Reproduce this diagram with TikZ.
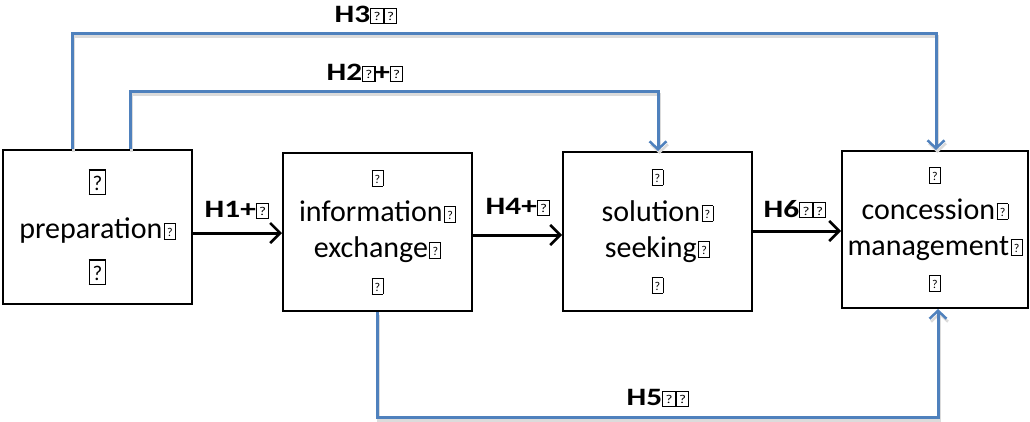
\documentclass[tikz,border=0pt]{standalone}
\usepackage{fontspec}
\setmainfont{Carlito}
\usetikzlibrary{arrows.meta}
% missing-glyph box: width, height, rule, font size, raise
\newcommand\mgx[5]{{\fboxsep=0pt\fboxrule=#3pt\fbox{\makebox[#1pt]{\rule{0pt}{#2pt}\raisebox{#5pt}{\fontsize{#4}{#4}\selectfont\mdseries ?}}}}}
\newcommand\mgs{\mgx{10}{15}{0.9}{12}{2.5}}
\newcommand\mgl{\mgx{9}{14}{0.9}{12}{2}}
\newcommand\mgb{\mgx{15}{23}{1.3}{21}{3}}
\newcommand\wmg[1]{#1\kern1.5pt\mgs}
\newcommand\lab[1]{\scalebox{1.25}[1]{\fontsize{25}{25}\selectfont\bfseries #1}}
\definecolor{obl}{RGB}{79,129,189}
\tikzset{
  box/.style={draw=black, line width=2pt, inner sep=0pt, align=center,
    font=\fontsize{30}{36}\selectfont},
  blk/.style={draw=black, line width=3pt, -{Straight Barb[length=10pt,width=20pt,line width=2.6pt]}},
  blu/.style={draw=obl, line width=3pt,
    preaction={draw=black!14, line width=3pt, transform canvas={shift={(1.5pt,-3pt)}}}},
  bluarr/.style={blu, -{Straight Barb[length=8pt,width=17pt,line width=2.5pt]}},
  lbl/.style={inner sep=0pt}
}
\begin{document}
\begin{tikzpicture}[x=1pt,y=-1pt]
\useasboundingbox (0,0) rectangle (1030,421);
\node[box, minimum width=189, minimum height=154, font=\fontsize{30}{45}\selectfont] (b1) at (97.5,227) {\mgb\\ \wmg{preparation}\\ \mgb};
\node[box, minimum width=189, minimum height=158] (b2) at (377.5,232) {\mgs\\ \wmg{information}\\ \wmg{exchange}\\ \mgs};
\node[box, minimum width=189, minimum height=159] (b3) at (657.5,231.5) {\mgs\\ \wmg{solution}\\ \wmg{seeking}\\ \mgs};
\node[box, minimum width=186, minimum height=157] (b4) at (935,229.5) {\mgs\\ \wmg{concession}\\ \wmg{management}\\ \mgs};
% black arrows
\draw[blk] (b1.east |- 0,233) -- (b2.west |- 0,233);
\draw[blk] (b2.east |- 0,235) -- (b3.west |- 0,235);
\draw[blk] (b3.east |- 0,231) -- (b4.west |- 0,231);
\node[lbl] (l1) at (237,210) {\lab{H1+\mgl}};
\node[lbl] (l4) at (518,207) {\lab{H4+\mgl}};
\node[lbl] (l6) at (795,209) {\lab{H6\mgl\mgl}};
% blue connectors
\coordinate (h3a) at (72,33);
\coordinate (h3b) at (936,33);
\coordinate (h2a) at (130,91);
\coordinate (h2b) at (658,91);
\coordinate (h5a) at (377,417);
\coordinate (h5b) at (938,417);
\draw[bluarr] (b1.north -| h3a) -- (h3a) -- (h3b) -- (b4.north -| h3b);
\draw[bluarr] (b1.north -| h2a) -- (h2a) -- (h2b) -- (b3.north -| h2b);
\draw[bluarr] (b2.south -| h5a) -- (h5a) -- (h5b) -- (b4.south -| h5b);
\node[lbl] (l3) at (366,15) {\lab{H3\mgl\mgl}};
\node[lbl] (l2) at (365,73) {\lab{H2\mgl\kern-1pt+\mgl}};
\node[lbl] (l5) at (658,398) {\lab{H5\mgl\mgl}};
\end{tikzpicture}
\end{document}
